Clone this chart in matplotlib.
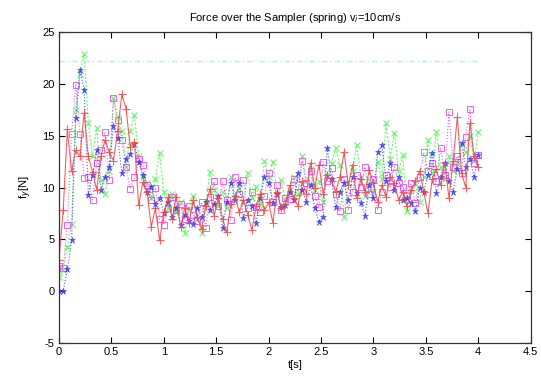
import numpy as np
import matplotlib
matplotlib.use('Agg')
import matplotlib.pyplot as plt

plt.rcParams['font.family'] = ['Liberation Sans', 'DejaVu Sans']
plt.rcParams['axes.unicode_minus'] = False

# sample spacing of the measurements (s)
dt = 0.04

# force series f_y [N], one value per sample
red = [3.0, 7.8, 15.6, 11.6, 13.6, 13.0, 17.2, 13.0, 11.5, 9.8,
       13.0, 14.6, 13.4, 12.6, 15.5, 19.0, 17.6, 13.9, 14.4, 8.3,
       10.5, 9.6, 6.2, 8.0, 4.9, 7.6, 9.1, 7.0, 9.1, 6.2,
       8.0, 6.6, 8.8, 7.2, 6.0, 8.2, 9.9, 7.3, 9.0, 7.0,
       5.7, 8.4, 9.2, 7.6, 8.8, 7.4, 5.9, 8.2, 9.4, 7.8,
       8.6, 6.6, 9.6, 8.0, 8.4, 10.2, 9.0, 8.2, 10.6, 9.4,
       12.4, 10.0, 12.2, 9.4, 11.2, 10.6, 9.6, 11.0, 13.4, 10.2,
       12.2, 9.0, 10.8, 9.6, 11.7, 10.4, 8.6, 10.2, 9.1, 11.0,
       10.4, 8.8, 9.6, 8.2, 9.8, 10.6, 11.6, 9.6, 7.5, 10.8,
       11.8, 10.2, 12.4, 9.0, 12.6, 16.8, 11.4, 10.0, 16.2, 13.0,
       12.0]

green = [1.4, 2.0, 4.3, 6.5, 17.5, 21.0, 22.9, 16.2, 13.0, 15.7,
         10.7, 9.4, 11.6, 18.6, 16.8, 15.5, 12.0, 15.5, 17.0, 13.0,
         11.0, 10.4, 9.0, 10.8, 13.3, 9.6, 8.0, 9.4, 7.6, 8.6,
         5.6, 7.8, 9.2, 7.0, 5.6, 8.4, 11.5, 9.8, 8.2, 9.6,
         8.0, 11.0, 9.0, 10.0, 8.6, 11.4, 9.0, 10.1, 8.4, 12.6,
         11.0, 12.5, 9.6, 10.7, 8.8, 9.8, 11.0, 9.4, 13.0, 10.6,
         11.8, 9.8, 10.6, 8.6, 11.2, 12.4, 13.8, 12.2, 7.2, 10.4,
         11.6, 14.1, 11.0, 9.2, 10.8, 9.6, 12.5, 10.8, 16.2, 12.8,
         15.3, 11.6, 13.1, 7.7, 9.8, 10.4, 8.6, 11.0, 14.6, 11.4,
         15.4, 12.0, 10.8, 13.0, 11.6, 12.4, 14.2, 13.4, 15.0, 12.6,
         15.4]

blue = [0.0, 0.0, 2.1, 4.9, 16.7, 21.3, 19.4, 9.3, 11.2, 13.6,
        9.8, 11.0, 12.0, 15.9, 14.8, 11.4, 12.8, 13.2, 14.2, 12.5,
        11.2, 9.6, 10.1, 8.4, 9.0, 7.5, 8.6, 7.2, 8.0, 6.4,
        7.4, 6.8, 6.5, 8.0, 7.2, 8.6, 7.8, 8.4, 9.2, 6.1,
        8.6, 10.4, 8.8, 10.4, 7.1, 8.8, 8.2, 6.6, 9.0, 11.0,
        10.4, 8.5, 9.4, 8.1, 8.3, 9.6, 8.8, 11.4, 9.8, 8.6,
        10.2, 8.0, 6.7, 7.2, 13.8, 10.8, 8.1, 9.6, 10.4, 8.8,
        11.0, 9.5, 8.5, 7.3, 10.2, 9.0, 13.4, 14.1, 10.6, 12.4,
        9.8, 11.0, 8.8, 9.0, 8.5, 7.7, 10.0, 9.6, 11.2, 13.3,
        9.5, 11.0, 12.4, 10.6, 9.6, 11.8, 14.3, 12.0, 12.8, 11.0,
        13.1]

magenta = [2.4, 2.2, 6.4, 15.2, 19.9, 15.2, 10.9, 11.0, 8.8, 12.4,
           13.6, 15.4, 10.7, 18.6, 16.5, 14.6, 12.0, 9.9, 11.0, 12.8,
           12.2, 10.2, 8.8, 10.0, 7.0, 6.4, 8.0, 9.1, 7.8, 8.4,
           7.0, 8.2, 7.4, 6.8, 8.6, 6.1, 9.1, 10.6, 8.2, 10.6,
           8.8, 6.9, 11.0, 9.4, 10.7, 8.0, 9.6, 8.1, 7.6, 9.2,
           11.4, 8.6, 10.2, 7.8, 9.0, 8.9, 10.8, 9.6, 12.6, 10.4,
           11.6, 9.2, 8.1, 12.5, 10.6, 11.9, 9.4, 7.7, 10.8, 7.8,
           9.6, 11.2, 10.1, 12.0, 9.4, 10.8, 7.8, 9.6, 11.2, 10.1,
           12.0, 10.4, 10.1, 9.2, 10.4, 8.5, 11.0, 13.4, 11.6, 12.4,
           10.6, 13.8, 11.2, 17.3, 12.0, 13.0, 11.4, 14.9, 17.6, 12.4,
           13.1]

# reference level (dashed cyan line)
ref_t = [0.0, 4.0]
ref_f = [22.2, 22.2]

xticks = [0, 0.5, 1, 1.5, 2, 2.5, 3, 3.5, 4, 4.5]
xtick_labels = ['0', '0.5', '1', '1.5', '2', '2.5', '3', '3.5', '4', '4.5']
yticks = [-5, 0, 5, 10, 15, 20, 25]

t = np.arange(len(red)) * dt

fig = plt.figure(figsize=(5.41, 3.77), dpi=100)
ax = fig.add_axes([0.109, 0.090, 0.872, 0.825])

ax.plot(ref_t, ref_f, color='#a8f4f4', lw=1.0, linestyle=(0, (4, 2, 1, 2)))
ax.plot(t, green, color='#6cf56c', lw=0.8, linestyle=(0, (2, 1.5)),
        marker='x', markersize=4.5, markeredgewidth=0.8)
ax.plot(t, magenta, color='#f060f0', lw=0.8, linestyle=':',
        marker='s', markersize=5, markerfacecolor='none', markeredgewidth=0.7)
ax.plot(t, blue, color='#3a3af0', lw=0.8, linestyle=':',
        marker='*', markersize=5, markeredgewidth=0.4, alpha=0.85)
ax.plot(t, red, color='#f04848', lw=0.8, linestyle='-', alpha=0.85,
        marker='+', markersize=5.5, markeredgewidth=0.8)

ax.set_xlim(0, 4.5)
ax.set_ylim(-5, 25)
ax.set_xticks(xticks)
ax.set_xticklabels(xtick_labels)
ax.set_yticks(yticks)
ax.tick_params(direction='in', top=True, right=True, length=4, width=0.8,
               labelsize=8, pad=3)
for s in ax.spines.values():
    s.set_linewidth(0.9)
    s.set_color('#333333')

ax.set_title('Force over the Sampler (spring) v$_i$=10cm/s', fontsize=8, pad=8)
ax.set_xlabel('t[s]', fontsize=8, labelpad=2)
ax.set_ylabel('f$_y$[N]', fontsize=8, labelpad=6)

fig.savefig('out.png', dpi=100)
